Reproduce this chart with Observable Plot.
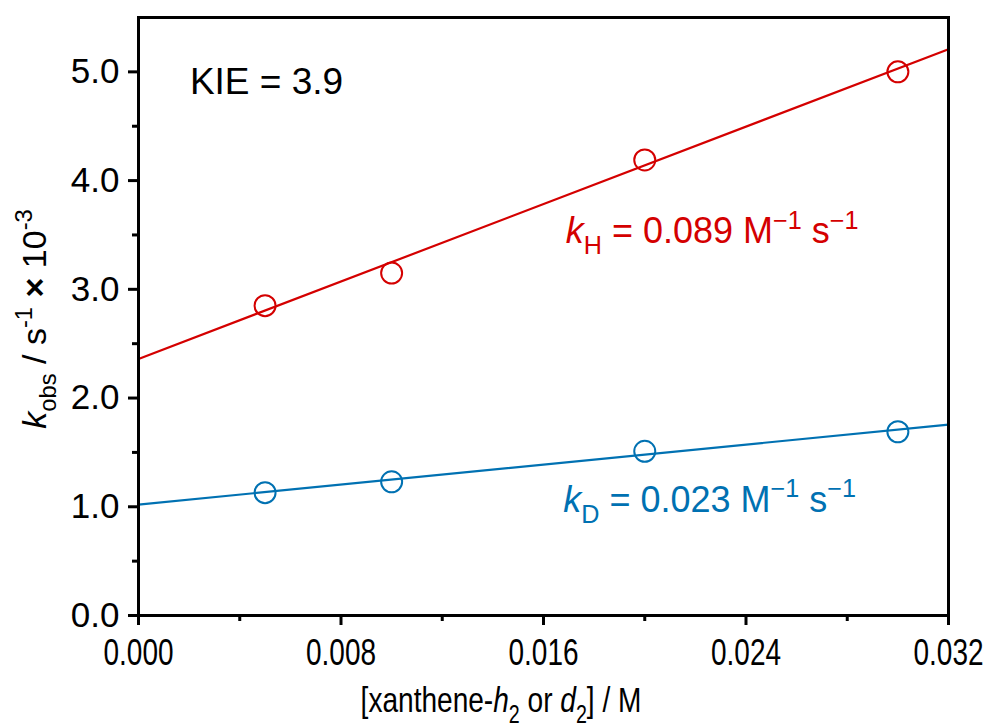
<!DOCTYPE html>
<html>
<head>
<meta charset="utf-8">
<script src="https://cdn.jsdelivr.net/npm/d3@7"></script>
<script src="https://cdn.jsdelivr.net/npm/@observablehq/plot@0.6"></script>
<style>
  html, body { margin: 0; padding: 0; background: #fff; }
  #chart svg { display: block; }
</style>
</head>
<body>
<div id="chart"></div>
<script>
// Xanthene concentrations (M)
const conc = [0.005, 0.010, 0.020, 0.030];
// Observed rate constants, kobs in units of 10^-3 s^-1
const kobsH = [2.85, 3.15, 4.19, 5.00];
const kobsD = [1.13, 1.23, 1.51, 1.69];
// Linear fits: slope in M^-1 s^-1, intercept in 10^-3 s^-1
const slopeH = 0.089, interceptH = 2.36;
const slopeD = 0.023, interceptD = 1.02;
// Axis ticks
const xMajor = [0, 0.008, 0.016, 0.024, 0.032];
const xMinor = [0.004, 0.012, 0.020, 0.028];
const yMajor = [0, 1, 2, 3, 4, 5];
const yMinor = [0.5, 1.5, 2.5, 3.5, 4.5];

const red = "#d40000";
const blue = "#0071b2";
const xDomain = [0, 0.032];

const points = [
  ...conc.map((c, i) => ({c, k: kobsH[i], s: "H"})),
  ...conc.map((c, i) => ({c, k: kobsD[i], s: "D"}))
];
const fit = (slope, intercept, s) =>
  xDomain.map(c => ({c, k: intercept + slope * 1000 * c, s}));
const fits = [...fit(slopeH, interceptH, "H"), ...fit(slopeD, interceptD, "D")];
const color = s => (s === "H" ? red : blue);

const plot = Plot.plot({
  width: 1003,
  height: 727,
  marginLeft: 138,
  marginRight: 55,
  marginTop: 17,
  marginBottom: 112,
  style: {fontFamily: "'Liberation Sans', Arial, sans-serif", background: "#fff", overflow: "visible"},
  x: {domain: xDomain},
  y: {domain: [0, 5.5]},
  marks: [
    Plot.line(fits.filter(d => d.s === "H"), {x: "c", y: "k", stroke: red, strokeWidth: 2.2}),
    Plot.line(fits.filter(d => d.s === "D"), {x: "c", y: "k", stroke: blue, strokeWidth: 2.2}),
    Plot.dot(points, {x: "c", y: "k", r: 10.5, stroke: d => color(d.s), strokeWidth: 2, fill: "none"}),
    Plot.axisX({
      ticks: xMajor, tickSize: 10, tickPadding: 14, strokeWidth: 3,
      tickFormat: d => d.toFixed(3), label: null,
      fontSize: 36, fill: "#000", stroke: "#000"
    }),
    Plot.axisX({ticks: xMinor, tickSize: 6, strokeWidth: 3, tickFormat: () => "", label: null, stroke: "#000"}),
    Plot.axisY({
      ticks: yMajor, tickSize: 10, tickPadding: 9, strokeWidth: 3,
      tickFormat: d => d.toFixed(1), label: null,
      fontSize: 35, fill: "#000", stroke: "#000"
    }),
    Plot.axisY({ticks: yMinor, tickSize: 6, strokeWidth: 3, tickFormat: () => "", label: null, stroke: "#000"}),
    Plot.frame({stroke: "#000", strokeWidth: 3})
  ]
});

document.getElementById("chart").appendChild(plot);

const svg = d3.select(plot);
const sx = plot.scale("x"), sy = plot.scale("y");
const X = v => sx.apply(v), Y = v => sy.apply(v);

// Condensed look for the x tick labels
svg.selectAll('g[aria-label="x-axis tick label"] text')
  .attr("textLength", 70)
  .attr("lengthAdjust", "spacingAndGlyphs");

// Helper: write a rich text line made of segments {t, italic, sub, sup, bold}
function rich(parent, x, y, segs, opts) {
  const t = parent.append("text")
    .attr("x", x).attr("y", y)
    .attr("font-size", opts.size)
    .attr("font-family", opts.family || "'Liberation Sans', Arial, sans-serif")
    .attr("fill", opts.fill || "#000")
    .attr("text-anchor", opts.anchor || "start");
  if (opts.transform) t.attr("transform", opts.transform);
  let shift = 0;
  for (const s of segs) {
    const sp = t.append("tspan").text(s.t);
    let target = 0;
    if (s.sub) target = opts.size * 0.3;
    if (s.sup) target = -opts.size * 0.4;
    if (target !== shift) { sp.attr("dy", target - shift); shift = target; }
    if (s.sub || s.sup) sp.attr("font-size", opts.size * 0.7);
    if (s.italic) sp.attr("font-style", "italic");
    if (s.bold) sp.attr("font-weight", "bold");
  }
  return t;
}

// KIE annotation
rich(svg, X(0.00205), Y(4.79), [{t: "KIE = 3.9"}], {size: 37});

// Rate constant annotations
rich(svg, X(0.0169), Y(3.42), [
  {t: "k", italic: true}, {t: "H", sub: true}, {t: " = 0.089 M"}, {t: "\u22121", sup: true},
  {t: " s"}, {t: "\u22121", sup: true}
], {size: 36, fill: red});
rich(svg, X(0.0168), Y(0.95), [
  {t: "k", italic: true}, {t: "D", sub: true}, {t: " = 0.023 M"}, {t: "\u22121", sup: true},
  {t: " s"}, {t: "\u22121", sup: true}
], {size: 36, fill: blue});

// Axis titles (x title horizontally condensed)
rich(svg, 0, 0, [
  {t: "[xanthene-"}, {t: "h", italic: true}, {t: "2", sub: true}, {t: " or "},
  {t: "d", italic: true}, {t: "2", sub: true}, {t: "] / M"}
], {size: 36, anchor: "middle", transform: "translate(501,712) scale(0.78,1)"});

rich(svg, 0, 0, [
  {t: "k", italic: true}, {t: "obs", sub: true}, {t: " / s"}, {t: "-1", sup: true},
  {t: " "}, {t: "\u00d7", bold: true}, {t: " 10"}, {t: "-3", sup: true}
], {size: 34, anchor: "middle", transform: `translate(46,${Y(2.75) + 3}) rotate(-90)`});
</script>
</body>
</html>
